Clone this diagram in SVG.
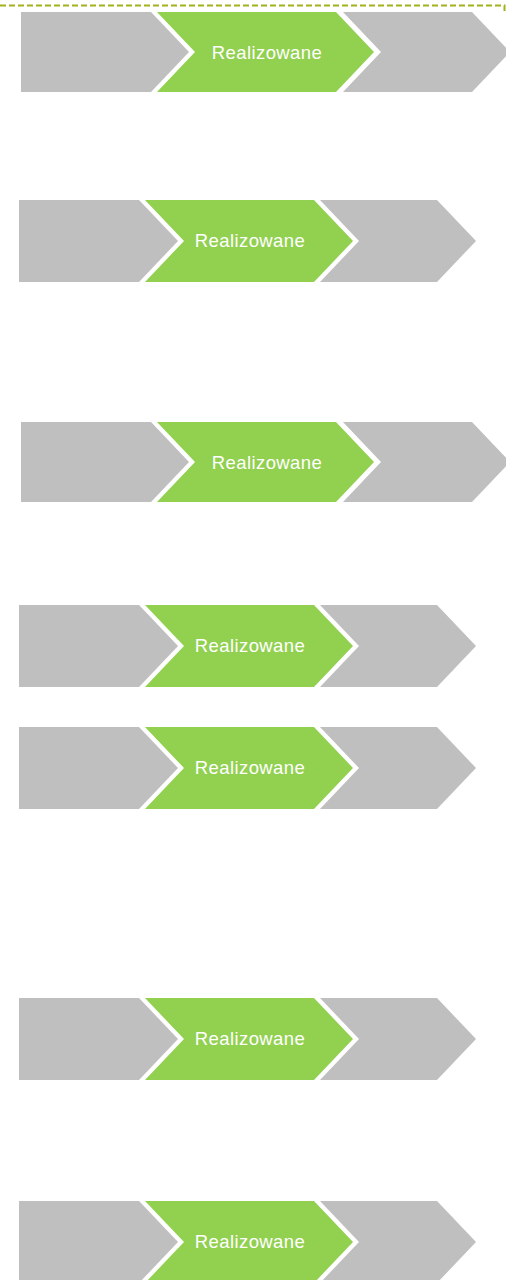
<svg xmlns="http://www.w3.org/2000/svg" width="506" height="1280" viewBox="0 0 506 1280">
<style>
.g{fill:#BFBFBF}
.a{fill:#92D050}
.t{fill:#FFFFFF;font-family:"Liberation Sans",Arial,sans-serif;font-size:18.5px;letter-spacing:0.4px;text-anchor:middle}
.d{fill:none;stroke:#A2B11C;stroke-width:2;stroke-dasharray:6 3}
</style>
<defs>
<g id="big">
<path class="g" d="M21,0 H151 L189,40 L151,80 H21 Z"/>
<path class="a" d="M157,0 H336 L374,40 L336,80 H157 L195,40 Z"/>
<path class="g" d="M343,0 H472 L510,40 L472,80 H343 L381,40 Z"/>
<text class="t" x="267" y="47">Realizowane</text>
</g>
<g id="small">
<path class="g" d="M19,0 H139 L178,41 L139,82 H19 Z"/>
<path class="a" d="M145,0 H314 L353,41 L314,82 H145 L184,41 Z"/>
<path class="g" d="M320,0 H437 L476,41 L437,82 H320 L359,41 Z"/>
<text class="t" x="250" y="46.5">Realizowane</text>
</g>
</defs>
<rect width="506" height="1280" fill="#FFFFFF"/>
<g id="border"><path class="d" d="M0,5.5 H504.5 V12"/></g>
<g id="row1"><use href="#big" x="0" y="12"/></g>
<g id="row2"><use href="#small" x="0" y="200"/></g>
<g id="row3"><use href="#big" x="0" y="422"/></g>
<g id="row4"><use href="#small" x="0" y="605"/></g>
<g id="row5"><use href="#small" x="0" y="727"/></g>
<g id="row6"><use href="#small" x="0" y="998"/></g>
<g id="row7"><use href="#small" x="0" y="1201"/></g>
<g id="connectors"></g>
</svg>
